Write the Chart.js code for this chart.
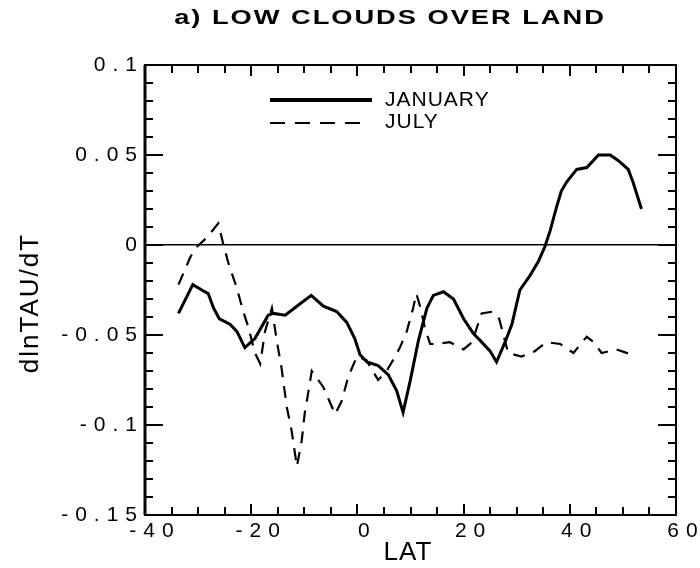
<!DOCTYPE html>
<html><head><meta charset="utf-8">
<script src="https://cdn.jsdelivr.net/npm/chart.js@4.4.1/dist/chart.umd.min.js"></script>
<style>html,body{margin:0;padding:0;background:#fff}#wrap{width:700px;height:568px}</style>
</head><body><div id="wrap"><canvas id="c" width="700" height="568"></canvas></div>
<script>
const title = "a) LOW CLOUDS OVER LAND";
const xTitle = "LAT";
const yTitle = "dlnTAU/dT";
const seriesNames = ["JANUARY", "JULY"];
const yTickLabels = ["0.1", "0.05", "0", "-0.05", "-0.1", "-0.15"];
const janLat = [-33.7,-31.0,-29.3,-28.1,-27.1,-26.0,-24.0,-22.7,-21.2,-19.3,-16.8,-15.8,-13.6,-11.4,-8.7,-6.4,-3.9,-2.0,-0.5,0.5,1.8,3.9,5.8,7.4,8.6,9.9,11.5,13.1,14.3,16.2,18.1,20.0,21.8,23.1,25.0,26.2,27.8,29.1,30.6,32.5,34.1,35.3,36.3,37.5,38.4,39.4,41.3,43.2,45.4,47.6,49.1,51.0,51.9,53.5];
const janVal = [-0.038,-0.022,-0.025,-0.027,-0.035,-0.041,-0.044,-0.048,-0.057,-0.052,-0.039,-0.038,-0.039,-0.034,-0.028,-0.034,-0.037,-0.043,-0.052,-0.061,-0.065,-0.067,-0.072,-0.081,-0.093,-0.076,-0.053,-0.035,-0.028,-0.026,-0.030,-0.041,-0.049,-0.053,-0.059,-0.065,-0.054,-0.044,-0.025,-0.017,-0.009,-0.001,0.008,0.021,0.030,0.035,0.042,0.043,0.050,0.050,0.047,0.042,0.035,0.020];
const julLat = [-33.7,-31.5,-30.6,-28.4,-26.2,-25.3,-24.3,-22.7,-21.5,-20.5,-19.3,-18.3,-17.4,-16.1,-15.2,-14.3,-13.3,-12.4,-11.4,-10.5,-9.9,-9.2,-8.6,-6.4,-4.2,-3.0,-1.7,-0.1,1.7,3.9,5.5,7.1,8.0,9.3,10.5,11.1,11.8,12.7,13.7,14.9,17.4,20.0,21.6,22.6,23.4,25.5,26.7,27.5,28.4,30.9,33.4,35.6,38.2,40.7,42.3,43.2,44.5,46.0,48.8,51.7];
const julVal = [-0.022,-0.007,-0.002,0.004,0.012,0.001,-0.010,-0.024,-0.037,-0.046,-0.060,-0.066,-0.048,-0.035,-0.053,-0.068,-0.090,-0.103,-0.123,-0.109,-0.093,-0.081,-0.070,-0.079,-0.094,-0.087,-0.073,-0.062,-0.064,-0.075,-0.070,-0.062,-0.057,-0.048,-0.035,-0.027,-0.034,-0.046,-0.055,-0.055,-0.054,-0.058,-0.054,-0.045,-0.038,-0.037,-0.041,-0.050,-0.060,-0.062,-0.059,-0.054,-0.055,-0.060,-0.054,-0.051,-0.054,-0.060,-0.058,-0.061];

const FONT = "'Liberation Sans', Arial, sans-serif";

const framePlugin = {
  id: 'frame',
  beforeDraw(chart) { chart.ctx.letterSpacing = '7px'; },
  afterDraw(chart) {
    const ctx = chart.ctx, a = chart.chartArea;
    const xs = chart.scales.x, ys = chart.scales.y;
    ctx.save();
    ctx.strokeStyle = '#000';
    ctx.lineWidth = 2;
    for (let v = -40; v <= 60; v += 5) {
      const px = Math.round(xs.getPixelForValue(v));
      const len = (v % 20 === 0) ? 11 : 8;
      ctx.beginPath();
      ctx.moveTo(px, a.bottom); ctx.lineTo(px, a.bottom - len);
      ctx.moveTo(px, a.top); ctx.lineTo(px, a.top + len);
      ctx.stroke();
    }
    for (let i = -15; i <= 10; i++) {
      const py = Math.round(ys.getPixelForValue(i / 100));
      const len = (i % 5 === 0) ? 18 : 8;
      ctx.beginPath();
      ctx.moveTo(a.left, py); ctx.lineTo(a.left + len, py);
      ctx.moveTo(a.right, py); ctx.lineTo(a.right - len, py);
      ctx.stroke();
    }
    ctx.lineWidth = 2;
    ctx.strokeRect(a.left, a.top, a.right - a.left, a.bottom - a.top);
    ctx.lineWidth = 3;
    ctx.beginPath(); ctx.moveTo(a.left, a.top); ctx.lineTo(a.left, a.bottom); ctx.stroke();
    // legend
    const lx0 = a.left + 125, lx1 = a.left + 227;
    const ly0 = a.top + 35, ly1 = a.top + 58;
    ctx.lineWidth = 4;
    ctx.beginPath(); ctx.moveTo(lx0, ly0); ctx.lineTo(lx1, ly0); ctx.stroke();
    ctx.lineWidth = 2; ctx.setLineDash([15, 10]);
    ctx.beginPath(); ctx.moveTo(lx0, ly1); ctx.lineTo(lx0 + 100, ly1); ctx.stroke();
    ctx.setLineDash([]);
    ctx.fillStyle = '#000';
    ctx.font = "21px " + FONT;
    ctx.letterSpacing = '1px';
    ctx.textAlign = 'left'; ctx.textBaseline = 'middle';
    ctx.fillText(seriesNames[0], a.left + 240, ly0 + 0.5);
    ctx.fillText(seriesNames[1], a.left + 240, ly1 - 1);
    // title (horizontally stretched like the original)
    ctx.save();
    ctx.font = "bold 21px " + FONT;
    ctx.letterSpacing = '1.5px';
    ctx.textAlign = 'center';
    ctx.translate(390, 18);
    ctx.scale(1.3, 1);
    ctx.fillText(title, 0, 0);
    ctx.restore();
    // axis titles
    ctx.font = "26px " + FONT;
    ctx.letterSpacing = '1px';
    ctx.textAlign = 'center';
    ctx.fillText(xTitle, 408, 553);
    ctx.save();
    ctx.translate(38, 303);
    ctx.rotate(-Math.PI / 2);
    ctx.letterSpacing = '2px';
    ctx.textBaseline = 'alphabetic';
    ctx.fillText(yTitle, 0, 0);
    ctx.restore();
    ctx.restore();
    ctx.letterSpacing = '0px';
  }
};

new Chart(document.getElementById('c'), {
  type: 'line',
  data: {
    datasets: [
      { label: seriesNames[0], data: janLat.map((x, i) => ({x, y: janVal[i]})),
        borderColor: '#000', borderWidth: 3, pointRadius: 0, tension: 0, fill: false },
      { label: seriesNames[1], data: julLat.map((x, i) => ({x, y: julVal[i]})),
        borderColor: '#000', borderWidth: 2.2, borderDash: [12, 9], pointRadius: 0, tension: 0, fill: false }
    ]
  },
  options: {
    responsive: false, animation: false, devicePixelRatio: 1,
    layout: { padding: { left: 0, right: 24, top: 65, bottom: 0 } },
    plugins: { legend: { display: false }, tooltip: { enabled: false }, title: { display: false } },
    scales: {
      x: {
        type: 'linear', min: -40, max: 60,
        afterFit: s => { s.height = 53; },
        ticks: { stepSize: 20, color: '#000', padding: 4, labelOffset: 10, maxRotation: 0, font: { family: FONT, size: 21 } },
        grid: { display: false, drawTicks: false },
        border: { display: false }
      },
      y: {
        type: 'linear', min: -0.15, max: 0.1,
        afterFit: s => { s.width = 145; },
        afterBuildTicks: s => { s.ticks = yTickLabels.map(t => ({ value: parseFloat(t) })); },
        ticks: { color: '#000', padding: 1, font: { family: FONT, size: 21 },
          callback: (v) => yTickLabels.find(t => Math.abs(parseFloat(t) - v) < 1e-9) },
        grid: { drawTicks: false, lineWidth: 1.5,
          color: c => (c.tick && Math.abs(c.tick.value) < 1e-9) ? '#000' : 'rgba(0,0,0,0)' },
        border: { display: false }
      }
    }
  },
  plugins: [framePlugin]
});
</script></body></html>
